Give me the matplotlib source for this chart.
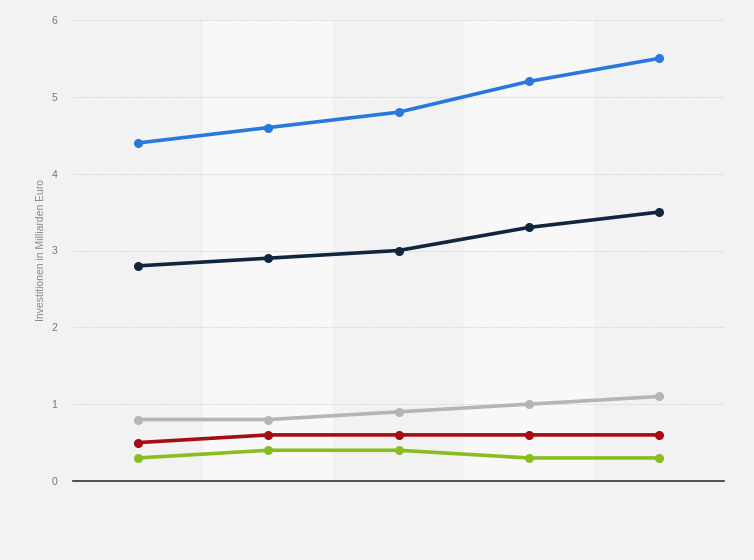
import matplotlib
matplotlib.use("Agg")
import matplotlib.pyplot as plt

plt.rcParams["font.family"] = ["Liberation Sans", "DejaVu Sans"]

categories = ["1", "2", "3", "4", "5"]
series_blue = [4.4, 4.6, 4.8, 5.2, 5.5]
series_navy = [2.8, 2.9, 3.0, 3.3, 3.5]
series_gray = [0.8, 0.8, 0.9, 1.0, 1.1]
series_red = [0.5, 0.6, 0.6, 0.6, 0.6]
series_green = [0.3, 0.4, 0.4, 0.3, 0.3]
y_ticks = [0, 1, 2, 3, 4, 5, 6]
y_label = "Investitionen in Milliarden Euro"

bg = "#f2f2f2"
fig = plt.figure(figsize=(7.54, 5.6), dpi=100, facecolor=bg)
ax = fig.add_axes([73 / 754, 79 / 560, (724 - 73) / 754, (481 - 20) / 560])
ax.set_facecolor(bg)

x = list(range(len(categories)))
for i in x:
    if i % 2 == 1:
        ax.axvspan(i - 0.5, i + 0.5, color="#f8f8f8", zorder=0, lw=0)

series = [
    (series_blue, "#2a77dd"),
    (series_navy, "#10263f"),
    (series_gray, "#b5b5b5"),
    (series_red, "#a50d12"),
    (series_green, "#89bd22"),
]
for vals, col in series:
    ax.plot(x, vals, color=col, lw=2.6, marker="o", markersize=5.5,
            solid_capstyle="round", zorder=3)

ax.set_xlim(-0.5, len(categories) - 0.5)
ax.set_ylim(0, 6)
ax.set_yticks(y_ticks)
ax.set_yticklabels([str(t) for t in y_ticks], color="#777777", fontsize=7.5)
ax.set_xticks([])
ax.tick_params(axis="y", length=0, pad=11.5)
ax.grid(axis="y", color="#d5d5d5", linestyle=(0, (1, 1)), lw=0.8, zorder=1)
ax.set_axisbelow(True)
for s in ["top", "right", "left"]:
    ax.spines[s].set_visible(False)
ax.spines["bottom"].set_color("#333333")
ax.spines["bottom"].set_linewidth(1.2)
ax.spines["bottom"].set_zorder(4)
ax.set_ylabel(y_label, color="#888888", fontsize=7.5, labelpad=4)

fig.savefig("out.png", dpi=100, facecolor=bg)
